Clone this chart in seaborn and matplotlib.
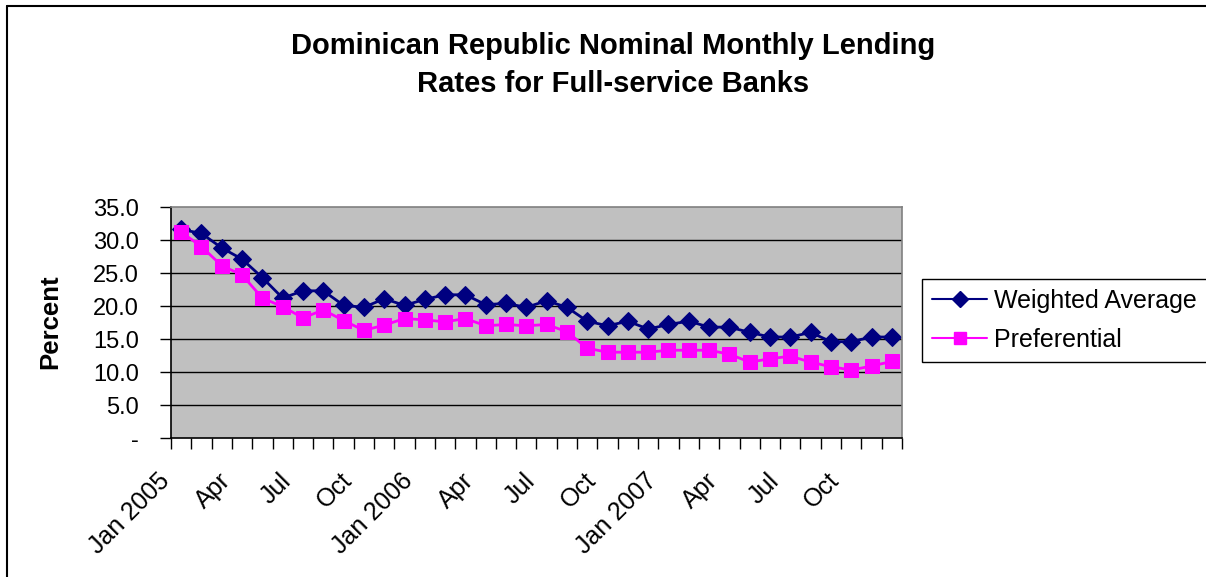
#!/usr/bin/env python3
"""
Dominican Republic nominal monthly lending rates, Excel-style line chart.
"""
import matplotlib.pyplot as plt
import matplotlib.lines as mlines
from matplotlib.transforms import ScaledTranslation
import seaborn as sns
import numpy as np
import pandas as pd

months = pd.date_range("2005-01-01", periods=36, freq="MS")
weighted_average = [31.6, 31.0, 28.8, 27.1, 24.3, 21.2, 22.3, 22.3, 20.1, 19.8, 21.1, 20.1,
                    21.0, 21.7, 21.7, 20.2, 20.4, 19.8, 20.8, 19.8, 17.7, 17.0, 17.7, 16.5,
                    17.2, 17.7, 16.8, 16.8, 16.0, 15.3, 15.3, 16.0, 14.6, 14.6, 15.3, 15.3]
preferential = [31.2, 29.0, 26.1, 24.7, 21.2, 19.9, 18.2, 19.4, 17.8, 16.3, 17.1, 18.1,
                17.9, 17.6, 18.1, 17.0, 17.2, 17.0, 17.2, 16.1, 13.6, 13.0, 13.0, 13.0,
                13.3, 13.3, 13.3, 12.7, 11.5, 12.0, 12.4, 11.5, 10.8, 10.3, 10.9, 11.6]
y_ticks = [0, 5, 10, 15, 20, 25, 30, 35]
y_tick_labels = ["-", "5.0", "10.0", "15.0", "20.0", "25.0", "30.0", "35.0"]

sns.set_style("white")
plt.rcParams['font.family'] = ['Liberation Sans', 'DejaVu Sans']
plt.rcParams.update({"text.color": "black", "axes.labelcolor": "black",
                     "xtick.color": "black", "ytick.color": "black"})

fig = plt.figure(figsize=(12.06, 5.77), dpi=100)
W, H = 1206, 577
ax = fig.add_axes([171 / W, 1 - 438 / H, (902 - 171) / W, (438 - 207) / H])
ax.set_facecolor("#C0C0C0")

idx = np.arange(len(months))
df = pd.DataFrame({"idx": idx, "wa": weighted_average, "pref": preferential})

sns.lineplot(data=df, x="idx", y="wa", ax=ax, color="#000080", marker="D",
             markersize=9.5, markeredgecolor="#000080", linewidth=2)
sns.lineplot(data=df, x="idx", y="pref", ax=ax, color="#FF00FF", marker="s",
             markersize=10, markeredgecolor="#FF00FF", linewidth=2)

ax.set_xlim(-0.5, len(months) - 0.5)
ax.set_ylim(0, 35)
for y in y_ticks[1:-1]:
    ax.axhline(y, color="black", linewidth=1, zorder=0.5)

ax.set_yticks(y_ticks)
ax.set_yticklabels(y_tick_labels, fontsize=17)
ax.tick_params(axis="y", direction="out", length=8, width=1, color="black",
               pad=15, left=True)

# category boundary ticks, labels every third month
ax.set_xticks(np.arange(-0.5, len(months), 1.0))
ax.set_xticklabels([])
ax.tick_params(axis="x", which="major", direction="out", length=8, width=1,
               color="black", bottom=True)
lab_pos = idx[::3]
lab_txt = [m.strftime("%b %Y") if m.month == 1 else m.strftime("%b")
           for m in months[::3]]
ax.set_xticks(lab_pos, minor=True)
ax.set_xticklabels(lab_txt, minor=True, rotation=45, ha="right",
                   rotation_mode="anchor", fontsize=18)
ax.tick_params(axis="x", which="minor", length=0, pad=22)
shift = ScaledTranslation(-24 / 100, 0, fig.dpi_scale_trans)
for lab in ax.get_xticklabels(minor=True):
    lab.set_transform(lab.get_transform() + shift)

ax.set_xlabel("")
ax.set_ylabel("")
fig.text(50 / W, 1 - 322 / H, "Percent", rotation=90, ha="center", va="center",
         fontsize=18.5, fontweight="bold")

for side in ["left", "bottom"]:
    ax.spines[side].set_color("black")
    ax.spines[side].set_linewidth(1.2)
for side in ["top", "right"]:
    ax.spines[side].set_color("#808080")
    ax.spines[side].set_linewidth(1.2)

fig.text(0.508, 1 - 46 / H, "Dominican Republic Nominal Monthly Lending",
         ha="center", va="center", fontsize=21, fontweight="bold")
fig.text(0.508, 1 - 84 / H, "Rates for Full-service Banks",
         ha="center", va="center", fontsize=21, fontweight="bold")

handles = [
    mlines.Line2D([], [], color="#000080", marker="D", markersize=8, linewidth=1.5),
    mlines.Line2D([], [], color="#FF00FF", marker="s", markersize=8, linewidth=1.5),
]
leg = fig.legend(handles, ["Weighted Average", "Preferential"],
                 loc="upper left", bbox_to_anchor=(922 / W, 1 - 279 / H),
                 fontsize=18, frameon=True, fancybox=False, framealpha=1,
                 edgecolor="black", handlelength=2.2, handletextpad=0.3,
                 borderpad=0.4, labelspacing=0.6, borderaxespad=0)
leg.get_frame().set_linewidth(1)

# chart area frame (only left and top edges visible)
fig.add_artist(mlines.Line2D([6.5 / W, 6.5 / W], [0, 1 - 5.5 / H],
                             transform=fig.transFigure, color="black", linewidth=1.5))
fig.add_artist(mlines.Line2D([6.5 / W, 1], [1 - 5.5 / H, 1 - 5.5 / H],
                             transform=fig.transFigure, color="black", linewidth=1.5))

plt.savefig("out.png", dpi=100)
